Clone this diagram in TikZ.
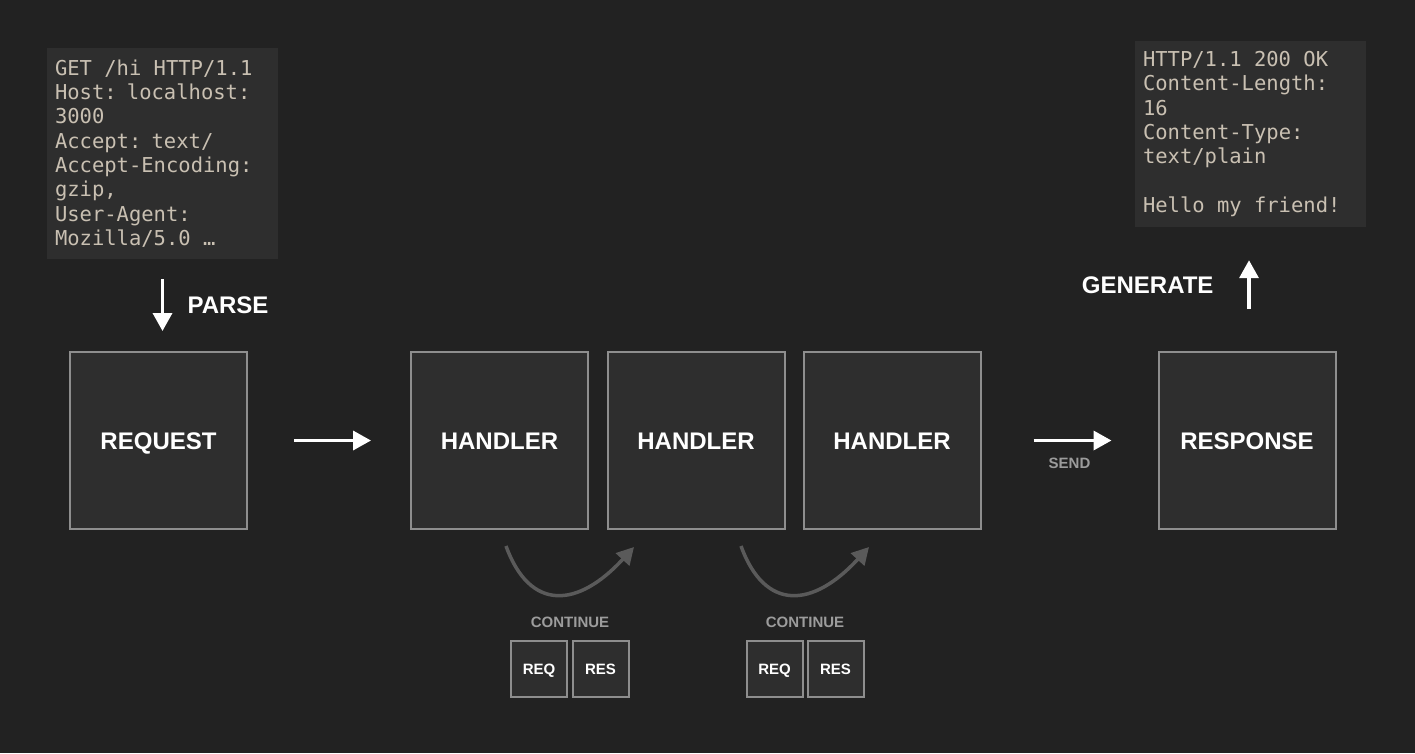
\documentclass[tikz,border=0pt]{standalone}
\usepackage{fontspec}
\setmainfont{Liberation Sans}
\newfontfamily\monofont{DejaVu Sans Mono}
\usetikzlibrary{arrows.meta}

\definecolor{bg}{HTML}{222222}
\definecolor{boxfill}{HTML}{2E2E2E}
\definecolor{boxline}{HTML}{8E8E8E}
\definecolor{codetext}{HTML}{C9C0B2}
\definecolor{curvegray}{HTML}{5A5A5A}
\definecolor{labelgray}{HTML}{9C9C9C}

\begin{document}
\begin{tikzpicture}[x=1pt,y=-1pt,
  stage/.style={draw=boxline, line width=2pt, fill=boxfill, minimum size=177pt,
    inner sep=0pt, text=white, text height=17.2pt, text depth=0pt,
    font=\bfseries\fontsize{24}{28}\selectfont},
  tiny/.style={draw=boxline, line width=2pt, fill=boxfill, minimum size=56pt,
    inner sep=0pt, text=white, text height=10.7pt, text depth=0pt,
    font=\bfseries\fontsize{15}{18}\selectfont},
  code/.style={fill=boxfill, text=codetext, align=left, inner xsep=8pt,
    font=\monofont\fontsize{20.5}{24.3}\selectfont,
    execute at begin node={\spaceskip=12.34pt\relax}},
  flowlabel/.style={text=white, font=\bfseries\fontsize{24}{28}\selectfont},
  smalllabel/.style={text=labelgray, font=\bfseries\fontsize{15}{18}\selectfont},
  bigarrow/.style={white, line width=3.5pt, -{Triangle[length=18pt,width=19pt]}},
  curvearrow/.style={curvegray, line width=3.5pt, -{Triangle[length=17pt,width=18pt]}}]

  % Background
  \fill[bg] (0,0) rectangle (1415,753);
  \useasboundingbox (0,0) rectangle (1415,753);

  % Raw messages
  \node[code, text width=215pt, minimum height=211pt] (reqtext) at (162.5,153.5)
    {GET /hi HTTP/1.1\\Host: localhost:\\3000\\Accept: text/\\Accept-Encoding:\\gzip,\\User-Agent:\\Mozilla/5.0 …};
  \node[code, text width=215pt, minimum height=186pt] (resptext) at (1250.5,134)
    {HTTP/1.1 200 OK\\Content-Length:\\16\\Content-Type:\\text/plain\\~\\Hello my friend!};

  % Stages
  \node[stage] (request) at (158.5,440.5) {REQUEST};
  \node[stage] (h1) at (499.5,440.5) {HANDLER};
  \node[stage] (h2) at (696,440.5) {HANDLER};
  \node[stage] (h3) at (892,440.5) {HANDLER};
  \node[stage] (response) at (1247,440.5) {RESPONSE};

  % Parse and generate
  \draw[bigarrow, shorten <=20pt, shorten >=20pt] (reqtext.south) -- (reqtext.south |- request.north);
  \node[flowlabel, anchor=west] (parse) at (184,305) {PARSE};
  \draw[bigarrow, shorten <=42pt, shorten >=33pt] ([xshift=2pt]response.north) -- ([xshift=2pt]response.north |- resptext.south);
  \node[flowlabel, anchor=east] (generate) at (1217,285) {GENERATE};

  % Straight arrows
  \draw[bigarrow, shorten <=46pt, shorten >=39pt] (request) -- (h1);
  \draw[bigarrow, shorten <=52pt, shorten >=46pt] (h3) -- (response)
    node[smalllabel, midway, yshift=-23pt] (send) {SEND};

  % Continue curves
  \coordinate (c1s) at (506,546);
  \coordinate (c1e) at (634,547);
  \coordinate (c2s) at (741,546);
  \coordinate (c2e) at (869,547);
  \draw[curvearrow] (c1s) .. controls (530,612) and (578,608) .. (c1e);
  \draw[curvearrow] (c2s) .. controls (765,612) and (813,608) .. (c2e);

  \node[smalllabel] (cont1) at (570,622) {CONTINUE};
  \node[smalllabel] (cont2) at (805,622) {CONTINUE};
  \node[tiny] (req1) at (539,669) {REQ};
  \node[tiny] (res1) at (600.5,669) {RES};
  \node[tiny] (req2) at (774.5,669) {REQ};
  \node[tiny] (res2) at (835.5,669) {RES};
\end{tikzpicture}
\end{document}
